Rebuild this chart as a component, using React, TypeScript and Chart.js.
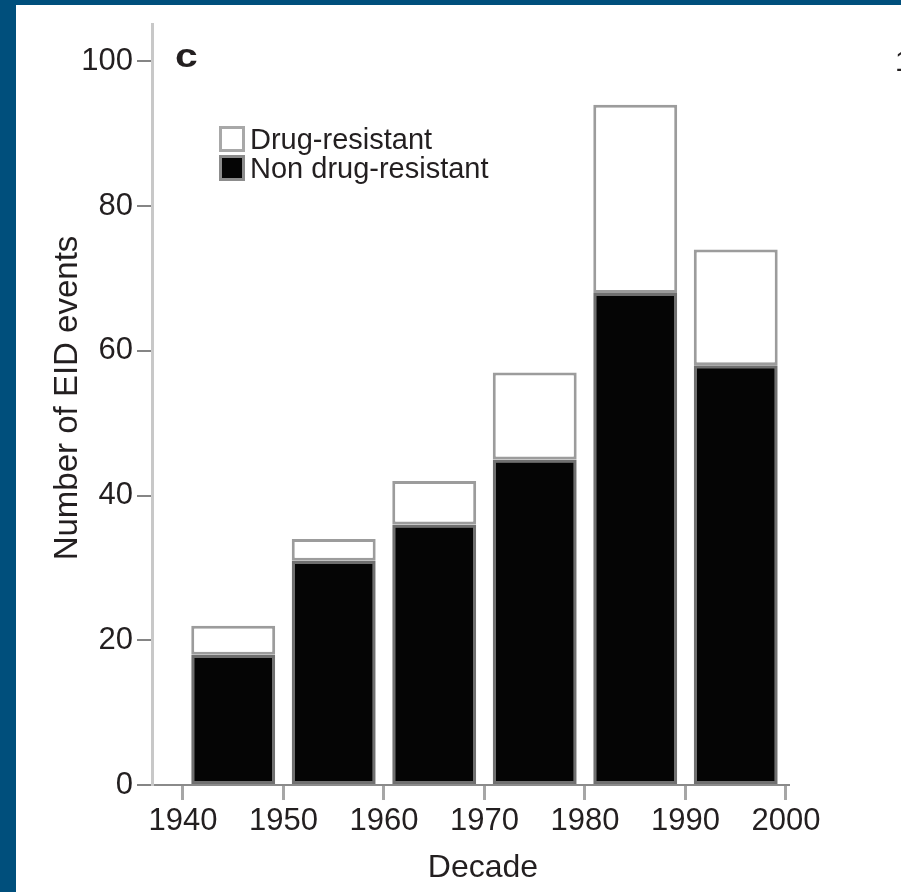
import React, { useEffect, useRef } from "react";
import { Chart, registerables } from "chart.js";

Chart.register(...registerables);

// ---- data ----
const decades = [1945, 1955, 1965, 1975, 1985, 1995];
const nonDrugResistant = [18, 31, 36, 45, 68, 58];
const drugResistant = [4, 3, 6, 12, 26, 16];
const xTickValues = [1940, 1950, 1960, 1970, 1980, 1990, 2000];
const yTickValues = [0, 20, 40, 60, 80, 100];
const seriesNames = ["Non drug-resistant", "Drug-resistant"];
const legendOrder = [1, 0];
const panelLabel = "c";
const edgeLabel = "1";
const xTitle = "Decade";
const yTitle = "Number of EID events";

const FONT = "'Liberation Sans', Arial, Helvetica, sans-serif";
const TEXT = "#231f20";
const FILLS = ["#050505", "#ffffff"];
const BORDERS = ["#707070", "#9c9c9c"];

const overlayPlugin = {
  id: "overlay",
  afterDraw(chart: any) {
    const ctx = chart.ctx as CanvasRenderingContext2D;
    ctx.save();
    ctx.fillStyle = TEXT;

    // y title
    ctx.save();
    ctx.translate(61, 393);
    ctx.rotate(-Math.PI / 2);
    ctx.font = `33px ${FONT}`;
    ctx.textAlign = "center";
    ctx.textBaseline = "alphabetic";
    ctx.fillText(yTitle, 0, 0);
    ctx.restore();

    // x title
    ctx.font = `32px ${FONT}`;
    ctx.textAlign = "center";
    ctx.textBaseline = "alphabetic";
    ctx.fillText(xTitle, 467, 872);

    // panel label
    ctx.save();
    ctx.translate(159, 62);
    ctx.scale(1.2, 1);
    ctx.font = `bold 34px ${FONT}`;
    ctx.textAlign = "left";
    ctx.fillText(panelLabel, 0, 0);
    ctx.restore();

    // edge label (cut-off neighbour panel)
    ctx.font = `29px ${FONT}`;
    ctx.textAlign = "left";
    ctx.fillText(edgeLabel, 879, 66);

    // legend
    const boxX = 204;
    const boxYs = [122, 151];
    const baselines = [144, 173];
    legendOrder.forEach((di, k) => {
      const ds = chart.data.datasets[di];
      ctx.fillStyle = ds.backgroundColor;
      ctx.fillRect(boxX, boxYs[k], 24, 24);
      ctx.strokeStyle = k === 0 ? "#a8a8a8" : "#8c8c8c";
      ctx.lineWidth = 3;
      ctx.strokeRect(boxX + 0.5, boxYs[k] + 0.5, 23, 23);
      ctx.fillStyle = TEXT;
      ctx.font = `29px ${FONT}`;
      ctx.textAlign = "left";
      ctx.textBaseline = "alphabetic";
      ctx.fillText(ds.label, 234, baselines[k]);
    });

    ctx.restore();
  },
};

export default function App() {
  const canvasRef = useRef<HTMLCanvasElement | null>(null);

  useEffect(() => {
    document.body.style.margin = "0";
    const canvas = canvasRef.current;
    if (!canvas) return;
    const chart = new Chart(canvas, {
      type: "bar",
      data: {
        datasets: [
          {
            label: seriesNames[0],
            data: decades.map((d, i) => ({ x: d, y: nonDrugResistant[i] })),
            backgroundColor: FILLS[0],
            borderColor: BORDERS[0],
            borderWidth: 3,
            borderSkipped: false,
            barPercentage: 0.835,
            categoryPercentage: 1,
          },
          {
            label: seriesNames[1],
            data: decades.map((d, i) => ({ x: d, y: drugResistant[i] })),
            backgroundColor: FILLS[1],
            borderColor: BORDERS[1],
            borderWidth: 3,
            borderSkipped: false,
            barPercentage: 0.835,
            categoryPercentage: 1,
          },
        ],
      } as any,
      options: {
        animation: false,
        responsive: false,
        devicePixelRatio: 1,
        layout: { padding: { top: 18, right: 113, left: 0, bottom: 0 } },
        plugins: {
          legend: { display: false },
          tooltip: { enabled: false },
          title: { display: false },
        },
        scales: {
          x: {
            type: "linear",
            stacked: true,
            offset: false,
            min: 1936.92,
            max: 2000.2,
            afterBuildTicks: (axis: any) => {
              axis.ticks = xTickValues.map((v) => ({ value: v }));
            },
            afterFit: (axis: any) => {
              axis.height = 107;
            },
            ticks: {
              autoSkip: false,
              maxRotation: 0,
              padding: 6,
              color: TEXT,
              font: { family: FONT, size: 31, lineHeight: 1.0 },
              callback: (v: any) => String(v),
            },
            grid: {
              offset: false,
              drawOnChartArea: false,
              drawTicks: true,
              tickLength: 15,
              color: "#a6a6a6",
              lineWidth: 3,
            },
            border: { display: true, color: "#8a8a8a", width: 2 },
          },
          y: {
            type: "linear",
            stacked: true,
            min: 0,
            max: 105.1,
            afterBuildTicks: (axis: any) => {
              axis.ticks = yTickValues.map((v) => ({ value: v }));
            },
            afterFit: (axis: any) => {
              axis.width = 136;
            },
            ticks: {
              padding: 4,
              color: TEXT,
              font: { family: FONT, size: 31, lineHeight: 1.0 },
              callback: (v: any) => String(v),
            },
            grid: {
              drawOnChartArea: false,
              drawTicks: true,
              tickLength: 15,
              color: "#858585",
              lineWidth: 2,
            },
            border: { display: true, color: "#c8c8c8", width: 3 },
          },
        },
      } as any,
      plugins: [overlayPlugin],
    });
    return () => chart.destroy();
  }, []);

  return (
    <div
      style={{
        position: "fixed",
        left: 0,
        top: 0,
        width: 901,
        height: 892,
        background: "#004f7c",
        overflow: "hidden",
      }}
    >
      <div
        style={{
          position: "absolute",
          left: 16,
          top: 5,
          width: 885,
          height: 887,
          background: "#ffffff",
        }}
      >
        <canvas
          ref={canvasRef}
          width={885}
          height={887}
          style={{ display: "block", width: 885, height: 887 }}
        />
      </div>
    </div>
  );
}
